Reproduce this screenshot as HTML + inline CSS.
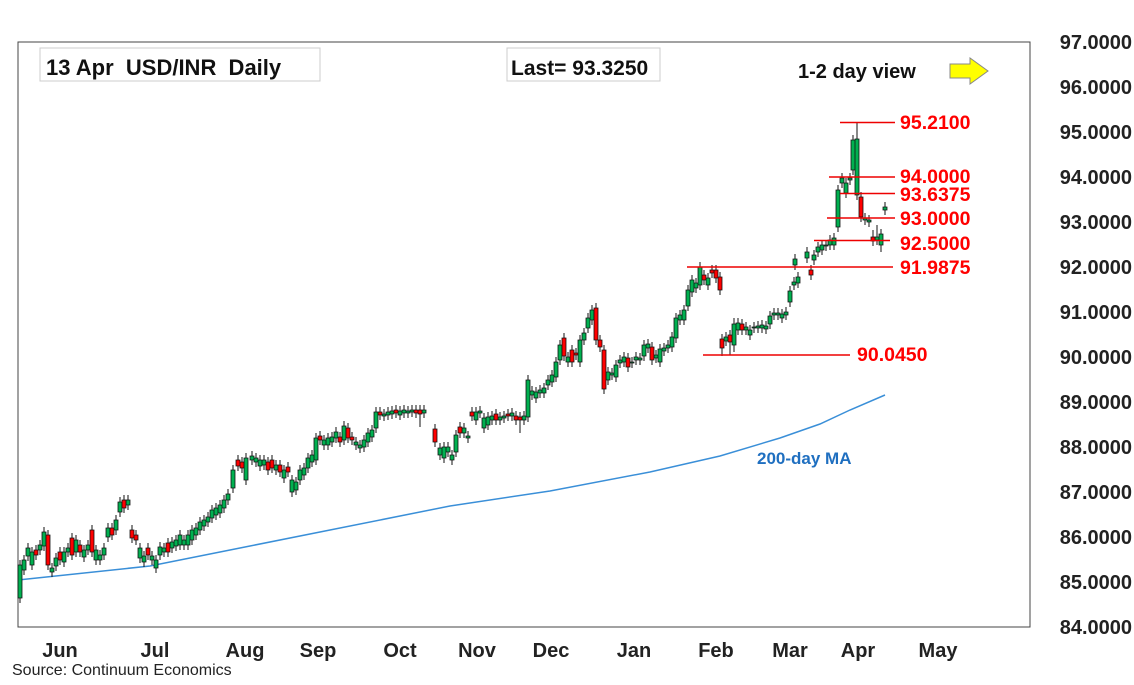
<!DOCTYPE html><html><head><meta charset="utf-8"><style>
body{margin:0;background:#fff;font-family:"Liberation Sans",sans-serif}
svg text{font-family:"Liberation Sans",sans-serif}
</style></head><body>
<svg width="1134" height="680" xmlns="http://www.w3.org/2000/svg">
<rect x="18" y="42" width="1012" height="585" fill="#fff" stroke="#444" stroke-width="1"/>
<polyline fill="none" stroke="#3a8fd8" stroke-width="1.5" points="18,580 150,566 250,546 330,530 400,516 450,506 550,491 650,472 720,456 780,438 820,424 850,410 885,395"/>
<path fill="none" stroke="#111" stroke-width="1" d="
M20 560V603M24 555V575M28 543V561M32 547V570M36 545V560M40 540V555M44 527V551M48 530V570M52 563V577M56 553V571M60 547V565M64 547V567M68 543V557M72 533V560M76 535V557M80 540V557M84 545V562M88 540V555M92 525V557M96 545V565M100 550V565M104 543V560M108 523V542M112 523V540M116 515V535M120 497V517M124 495V513M128 495V510
M132 525V543M136 530V545M140 543V563M144 551V567M148 543V560M152 551V565M156 555V573M160 542V560M164 543V557M168 538V557M172 537V553M176 535V551M180 530V550M184 535V550M188 530V550M192 525V545M196 523V540M200 517V535M204 515V531M208 512V527M212 505V523M216 503V520M220 500V518M224 495V513M228 489V505M233 465V493M238 455V471M242 457V473M246 453V485M252 451V465M256 453V467M260 455V471M264 455V470M268 457V475M272 455V473M276 460V475M280 460V477M284 465V483M288 462V477M292 475V497M296 477V495M300 465V485M304 463V480M308 453V473M312 450V467M316 433V465M320 431V445M324 435V450M328 433V450M332 432V447M336 427V443M340 432V447M344 421V445M348 423V443M352 432V445M356 437V450M360 440V453M364 435V452M368 428V447M372 425V442M376 407V433M380 407V420M384 409V421M388 407V420M392 406V419M396 405V418M400 406V420M404 405V418M408 406V418M412 405V417M416 405V418M420 405V427M424 405V418
M435 424V447M440 443V460M444 442V463M448 442V457M452 450V465M456 430V457M460 422V438M464 423V438M468 431V443M472 407V421M476 407V425M480 406V418M484 413V433M488 412V430M492 411V425M496 409V425M500 412V425M504 411V423M508 409V421M512 408V421M516 411V425M520 412V433M524 411V425M528 375V422M532 386V400M536 387V403M540 385V398M544 383V398M548 375V390M552 370V387M556 357V382M560 340V365M564 333V361M568 352V367M572 345V367M576 348V360M580 335V367M584 328V345M588 313V333M592 305V325M596 303V345M600 335V352M604 345V394M608 367V385M612 368V380M616 360V382M620 355V368M624 352V367M628 353V372M632 357V368M636 352V365M640 353V365M644 340V361M648 339V353M652 342V365M656 350V363M660 344V367M664 343V356M668 340V353M672 332V352M676 313V343M680 310V325M684 305V325M688 285V311M692 275V297M696 278V293M700 262V290M704 270V285M708 273V290M712 265V278M716 265V283M720 272V295
M722 334V356M726 332V346M730 330V355M734 318V352M738 318V335M742 319V335M746 322V335M750 325V340M754 322V333M758 321V333M762 320V333M766 321V334M770 311V329M774 308V320M778 308V320M782 309V323M786 307V320M790 286V307M794 277V290M798 272V288M795 254V270M807 247V263M811 265V280M814 250V265M818 242V257M822 240V255M826 240V251M830 235V250M834 233V250M838 185V232M842 173V188M846 178V198M850 173V185M853 135V175M857 122V200M861 192V222M865 213V225M869 215V227M873 230V246M877 225V245M881 229V252M885 202V215"/>
<path fill="#00b050" stroke="#111" stroke-width="0.8" d="
M18 565h4V598h-4ZM22 560h4V570h-4ZM26 548h4V556h-4ZM30 552h4V565h-4ZM38 545h4V550h-4ZM42 532h4V546h-4ZM50 568h4V572h-4ZM54 558h4V566h-4ZM62 552h4V562h-4ZM66 548h4V552h-4ZM74 540h4V552h-4ZM82 550h4V557h-4ZM86 545h4V550h-4ZM94 550h4V560h-4ZM98 555h4V560h-4ZM102 548h4V555h-4ZM106 528h4V537h-4ZM114 520h4V530h-4ZM118 502h4V512h-4ZM126 500h4V505h-4Z
M138 548h4V558h-4ZM142 556h4V562h-4ZM150 556h4V560h-4ZM154 560h4V568h-4ZM158 547h4V555h-4ZM162 548h4V552h-4ZM170 542h4V548h-4ZM174 540h4V546h-4ZM178 535h4V545h-4ZM182 540h4V545h-4ZM186 535h4V545h-4ZM190 530h4V540h-4ZM194 528h4V535h-4ZM198 522h4V530h-4ZM202 520h4V526h-4ZM206 517h4V522h-4ZM210 510h4V518h-4ZM214 508h4V515h-4ZM218 505h4V513h-4ZM222 500h4V508h-4ZM226 494h4V500h-4ZM231 470h4V488h-4ZM244 458h4V480h-4ZM250 456h4V460h-4ZM254 458h4V462h-4ZM258 460h4V466h-4ZM262 460h4V465h-4ZM274 465h4V470h-4ZM282 470h4V478h-4ZM290 480h4V492h-4ZM294 482h4V490h-4ZM298 470h4V480h-4ZM302 468h4V475h-4ZM306 458h4V468h-4ZM310 455h4V462h-4ZM314 438h4V460h-4ZM322 440h4V445h-4ZM326 438h4V445h-4ZM330 437h4V442h-4ZM334 432h4V438h-4ZM342 426h4V440h-4ZM354 442h4V445h-4ZM358 445h4V448h-4ZM362 440h4V447h-4ZM366 433h4V442h-4ZM370 430h4V437h-4ZM374 412h4V428h-4ZM382 414h4V416h-4ZM386 412h4V415h-4ZM390 411h4V414h-4ZM398 411h4V415h-4ZM402 410h4V413h-4ZM406 411h4V413h-4ZM410 410h4V412h-4ZM422 410h4V413h-4Z
M438 448h4V455h-4ZM442 447h4V458h-4ZM446 447h4V452h-4ZM450 455h4V460h-4ZM454 435h4V452h-4ZM462 428h4V433h-4ZM466 436h4V438h-4ZM474 412h4V420h-4ZM478 411h4V413h-4ZM482 418h4V428h-4ZM486 417h4V425h-4ZM490 416h4V420h-4ZM498 417h4V420h-4ZM502 416h4V418h-4ZM510 413h4V416h-4ZM522 416h4V420h-4ZM526 380h4V417h-4ZM530 391h4V395h-4ZM534 392h4V398h-4ZM538 390h4V393h-4ZM542 388h4V393h-4ZM546 380h4V385h-4ZM550 375h4V382h-4ZM554 362h4V377h-4ZM558 345h4V360h-4ZM566 357h4V362h-4ZM578 340h4V362h-4ZM582 333h4V340h-4ZM586 318h4V328h-4ZM590 310h4V320h-4ZM606 372h4V380h-4ZM610 373h4V375h-4ZM614 365h4V377h-4ZM618 360h4V363h-4ZM622 357h4V362h-4ZM630 362h4V363h-4ZM634 357h4V360h-4ZM638 358h4V360h-4ZM642 345h4V356h-4ZM646 344h4V348h-4ZM654 355h4V358h-4ZM658 349h4V362h-4ZM662 348h4V351h-4ZM666 345h4V348h-4ZM670 337h4V347h-4ZM674 318h4V338h-4ZM678 315h4V320h-4ZM682 310h4V320h-4ZM686 290h4V306h-4ZM690 280h4V292h-4ZM694 283h4V288h-4ZM698 267h4V285h-4ZM706 278h4V285h-4Z
M724 337h4V341h-4ZM732 324h4V345h-4ZM736 323h4V330h-4ZM744 327h4V330h-4ZM748 330h4V335h-4ZM752 327h4V328h-4ZM756 326h4V328h-4ZM760 325h4V328h-4ZM764 326h4V329h-4ZM768 316h4V324h-4ZM772 313h4V315h-4ZM776 313h4V315h-4ZM780 314h4V318h-4ZM784 312h4V315h-4ZM788 291h4V302h-4ZM792 282h4V285h-4ZM796 277h4V283h-4ZM793 259h4V265h-4ZM805 252h4V258h-4ZM812 255h4V260h-4ZM816 247h4V252h-4ZM820 245h4V250h-4ZM824 245h4V246h-4ZM828 240h4V245h-4ZM832 238h4V245h-4ZM836 190h4V227h-4ZM840 178h4V183h-4ZM844 183h4V193h-4ZM848 178h4V180h-4ZM851 140h4V170h-4ZM855 139h4V195h-4ZM863 218h4V220h-4ZM867 220h4V222h-4ZM875 237h4V240h-4ZM879 234h4V245h-4ZM883 207h4V210h-4Z"/>
<path fill="#ff0000" stroke="#111" stroke-width="0.8" d="
M34 550h4V555h-4ZM46 535h4V565h-4ZM58 552h4V560h-4ZM70 538h4V555h-4ZM78 545h4V552h-4ZM90 530h4V552h-4ZM110 528h4V535h-4ZM122 500h4V508h-4ZM130 530h4V538h-4ZM134 535h4V540h-4ZM146 548h4V555h-4ZM166 543h4V552h-4ZM236 460h4V466h-4ZM240 462h4V468h-4ZM266 462h4V470h-4ZM270 460h4V468h-4ZM278 465h4V472h-4ZM286 467h4V472h-4ZM318 436h4V440h-4ZM338 437h4V442h-4ZM346 428h4V438h-4ZM350 437h4V440h-4ZM378 412h4V415h-4ZM394 410h4V413h-4ZM414 410h4V413h-4ZM418 410h4V414h-4ZM433 429h4V442h-4ZM458 427h4V433h-4ZM470 412h4V416h-4ZM494 414h4V420h-4ZM506 414h4V416h-4ZM514 416h4V420h-4ZM518 417h4V420h-4ZM562 338h4V356h-4ZM570 350h4V362h-4ZM574 353h4V355h-4ZM594 308h4V340h-4ZM598 340h4V347h-4ZM602 350h4V389h-4ZM626 358h4V367h-4ZM650 347h4V360h-4ZM702 275h4V280h-4ZM710 270h4V273h-4ZM714 270h4V278h-4ZM718 277h4V290h-4ZM720 339h4V348h-4ZM728 335h4V342h-4ZM740 324h4V330h-4ZM809 270h4V275h-4ZM859 197h4V217h-4ZM871 237h4V241h-4Z"/>
<text x="757" y="464" font-size="17" font-weight="bold" fill="#1f6fc0">200-day MA</text>
<g font-size="20" font-weight="bold" fill="#222" text-anchor="end">
<text x="1132" y="49">97.0000</text><text x="1132" y="94">96.0000</text><text x="1132" y="139">95.0000</text><text x="1132" y="184">94.0000</text><text x="1132" y="229">93.0000</text><text x="1132" y="274">92.0000</text><text x="1132" y="319">91.0000</text><text x="1132" y="364">90.0000</text><text x="1132" y="409">89.0000</text><text x="1132" y="454">88.0000</text><text x="1132" y="499">87.0000</text><text x="1132" y="544">86.0000</text><text x="1132" y="589">85.0000</text><text x="1132" y="634">84.0000</text>
</g>
<g font-size="20" font-weight="bold" fill="#222" text-anchor="middle">
<text x="60" y="657">Jun</text><text x="155" y="657">Jul</text><text x="245" y="657">Aug</text><text x="318" y="657">Sep</text><text x="400" y="657">Oct</text><text x="477" y="657">Nov</text><text x="551" y="657">Dec</text><text x="634" y="657">Jan</text><text x="716" y="657">Feb</text><text x="790" y="657">Mar</text><text x="858" y="657">Apr</text><text x="938" y="657">May</text>
</g>
<text x="12" y="675" font-size="16" fill="#222">Source: Continuum Economics</text>
<rect x="40" y="48" width="280" height="33" fill="#fff" stroke="#ccc"/>
<text x="46" y="75" font-size="22" font-weight="bold" fill="#111" style="white-space:pre" xml:space="preserve">13 Apr  USD/INR  Daily</text>
<rect x="507" y="48" width="153" height="33" fill="#fff" stroke="#ccc"/>
<text x="511" y="75" font-size="21" font-weight="bold" fill="#111">Last= 93.3250</text>
<text x="798" y="78" font-size="20" font-weight="bold" fill="#111">1-2 day view</text>
<polygon points="950,64 970,64 970,58 988,71 970,84 970,78 950,78" fill="#ffff00" stroke="#888" stroke-width="1"/>
<g stroke="#e00" stroke-width="1.5">
<line x1="840" y1="122.5" x2="895" y2="122.5"/><line x1="829" y1="177" x2="895" y2="177"/><line x1="840" y1="193.5" x2="895" y2="193.5"/><line x1="827" y1="218" x2="895" y2="218"/><line x1="814" y1="240.5" x2="890" y2="240.5"/><line x1="687" y1="267" x2="893" y2="267"/><line x1="703" y1="355" x2="850" y2="355"/>
</g>
<g font-size="19.5" font-weight="bold" fill="#f00">
<text x="900" y="129">95.2100</text><text x="900" y="183">94.0000</text><text x="900" y="201">93.6375</text><text x="900" y="225">93.0000</text><text x="900" y="250">92.5000</text><text x="900" y="274">91.9875</text><text x="857" y="361">90.0450</text>
</g>
</svg>
</body></html>
